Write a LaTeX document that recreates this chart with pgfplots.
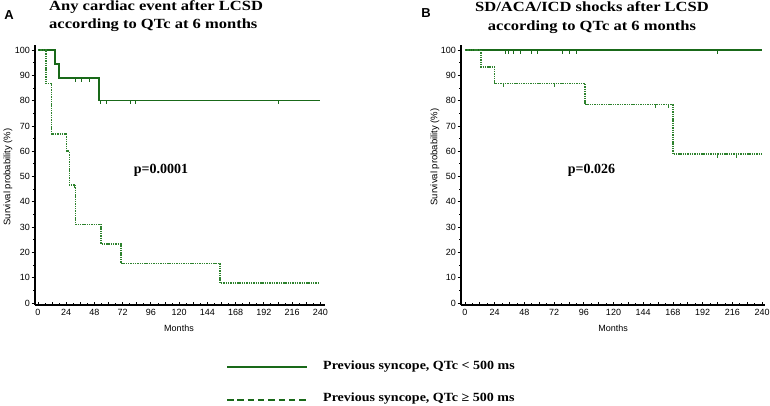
\documentclass[border=0pt]{standalone}
\usepackage{pgfplots}
\pgfplotsset{compat=1.18}
\usepackage{fontspec}
\setmainfont{Liberation Serif}
\newfontfamily\arial{Liberation Sans}
\definecolor{solidg}{RGB}{25,105,25}
\definecolor{dashg}{RGB}{45,130,45}
\pgfplotsset{
  km/.style={
    scale only axis, height=260pt, clip=false,
    axis x line=bottom, axis y line=left,
    axis line style={line width=1.6pt,-},
    ymin=-0.8, ymax=102,
    xtick={0,12,...,240},
    xticklabels={0,,24,,48,,72,,96,,120,,144,,168,,192,,216,,240},
    minor xtick={6,18,...,234},
    ytick={0,10,...,100}, minor ytick={5,15,...,95},
    tick align=inside,
    major tick length=3.5pt, minor tick length=2pt,
    tick style={black, line width=0.8pt},
    major y tick style={xshift=-3.5pt},
    minor y tick style={xshift=-2pt},
    ticklabel style={font=\arial\fontsize{9}{10}\selectfont, black},
    /pgf/number format/assume math mode=true,
    yticklabel style={xshift=-1.5pt},
    xticklabel style={yshift=-1pt},
  },
  solidc/.style={const plot, solidg, line width=1.5pt},
  dashc/.style={const plot, dashg, line width=1.6pt, dash pattern=on 1.4pt off 0.9pt},
  cens/.style={only marks, mark=|, mark size=1.8pt, mark options={yshift=-1.8pt, solid, line width=0.8pt}},
}
\begin{document}
\begin{tikzpicture}
\path[use as bounding box] (0,0) rectangle (770pt,-406pt);

% ---------- Panel A ----------
\begin{axis}[km, at={(35pt,-305pt)}, anchor=south west, width=290pt,
  xmin=-2.5, xmax=244]
\addplot[solidc] coordinates {(0,100) (14.5,94.4) (18,88.9) (52,80) (240,80)};
\addplot[dashc] coordinates {(0,100) (7,86.7) (11.6,66.7) (24.4,60) (26.7,46.7) (32,31.1) (53.6,23.3) (70.6,15.6) (155,7.8) (239,7.8)};
\addplot[cens, solidg] coordinates {(32,88.9) (37,88.9) (44,88.9) (53,80) (58,80) (79,80) (83,80) (204,80)};
\addplot[cens, dashg] coordinates {(30.6,46.7)};
\end{axis}

% ---------- Panel B ----------
\begin{axis}[km, at={(461pt,-305pt)}, anchor=south west, width=304pt,
  xmin=-3.2, xmax=242.4]
\addplot[solidc] coordinates {(0,100) (240,100)};
\addplot[dashc] coordinates {(0,100) (13,93.3) (24,86.7) (97,78.4) (168,58.8) (240,58.8)};
\addplot[cens, solidg] coordinates {(33,100) (35,100) (39,100) (44.4,100) (53.9,100) (58.7,100) (79,100) (84,100) (89.7,100) (204,100)};
\addplot[cens, dashg] coordinates {(31,86.7) (72,86.7) (154,78.4) (164,78.4) (204,58.8) (219,58.8)};
\end{axis}

% ---------- Texts ----------
\node[font=\arial\bfseries\fontsize{13}{15}\selectfont] at (9pt,-15pt) {A};
\node[font=\arial\bfseries\fontsize{13}{15}\selectfont] at (426pt,-13pt) {B};
\node[anchor=base west, inner sep=0pt] at (49pt,-11pt) {\scalebox{1.18}[1]{\bfseries\fontsize{14}{16}\selectfont Any cardiac event after LCSD}};
\node[anchor=base west, inner sep=0pt] at (49pt,-29pt) {\scalebox{1.18}[1]{\bfseries\fontsize{14}{16}\selectfont according to QTc at 6 months}};
\node[anchor=base, inner sep=0pt] at (592pt,-12pt) {\scalebox{1.18}[1]{\bfseries\fontsize{14}{16}\selectfont SD/ACA/ICD shocks after LCSD}};
\node[anchor=base, inner sep=0pt] at (592pt,-30.5pt) {\scalebox{1.18}[1]{\bfseries\fontsize{14}{16}\selectfont according to QTc at 6 months}};
\node[anchor=base, inner sep=0pt] at (161pt,-173pt) {\bfseries\fontsize{14}{16}\selectfont p=0.0001};
\node[anchor=base, inner sep=0pt] at (591.5pt,-173pt) {\bfseries\fontsize{14}{16}\selectfont p=0.026};
\node[font=\arial\fontsize{9}{10}\selectfont] at (179pt,-328pt) {Months};
\node[font=\arial\fontsize{9}{10}\selectfont] at (613pt,-328pt) {Months};
\node[font=\arial\fontsize{9.5}{10}\selectfont, rotate=90] at (8pt,-177pt) {Survival probability (\%)};
\node[font=\arial\fontsize{9.5}{10}\selectfont, rotate=90] at (435pt,-157pt) {Survival probability (\%)};

% ---------- Legend ----------
\draw[solidg, line width=2pt] (227pt,-366.5pt) -- (307pt,-366.5pt);
\draw[solidg, line width=2pt, dash pattern=on 6.5pt off 3.8pt] (227pt,-400pt) -- (307pt,-400pt);
\node[anchor=west, inner sep=0pt] at (323pt,-366.5pt) {\scalebox{1.12}[1]{\bfseries\fontsize{12.5}{14}\selectfont Previous syncope, QTc < 500 ms}};
\node[anchor=west, inner sep=0pt] at (323pt,-399pt) {\scalebox{1.12}[1]{\bfseries\fontsize{12.5}{14}\selectfont Previous syncope, QTc ≥ 500 ms}};
\end{tikzpicture}
\end{document}
